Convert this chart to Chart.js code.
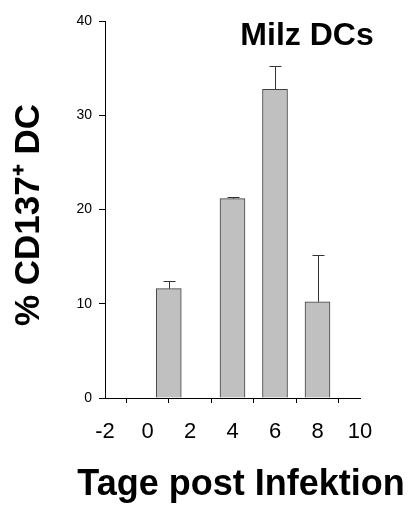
<!DOCTYPE html>
<html>
<head>
<meta charset="utf-8">
<script src="https://cdn.jsdelivr.net/npm/chart.js@4/dist/chart.umd.min.js"></script>
<style>
  body { margin: 0; background: #fff; }
  #wrap { width: 414px; height: 509px; }
</style>
</head>
<body>
<div id="wrap"><canvas id="grafico" width="414" height="509"></canvas></div>
<script>
// Tage post Infektion
const tage = [1, 4, 6, 8];
// % CD137+ DC (Mittelwert)
const werte = [11.6, 21.15, 32.75, 10.2];
// Fehlerbalken (nur nach oben)
const fehler = [0.8, 0.15, 2.45, 5.0];
const xTicks = [-2, 0, 2, 4, 6, 8, 10];
const yTicks = [0, 10, 20, 30, 40];

const FONT = '"Liberation Sans", Arial, Helvetica, sans-serif';

// zeichnet Fehlerbalken und die freien Texte
const extras = {
    id: 'extras',
    afterDatasetsDraw(chart) {
        const ctx = chart.ctx;
        const xs = chart.scales.x;
        const ys = chart.scales.y;
        ctx.save();
        ctx.strokeStyle = '#333';
        ctx.lineWidth = 1;
        tage.forEach((t, i) => {
            const x = Math.round(xs.getPixelForValue(t)) + 0.5;
            const y1 = ys.getPixelForValue(werte[i]);
            const y2 = Math.round(ys.getPixelForValue(werte[i] + fehler[i])) + 0.5;
            ctx.beginPath();
            ctx.moveTo(x, y1);
            ctx.lineTo(x, y2);
            ctx.moveTo(x - 6, y2);
            ctx.lineTo(x + 6, y2);
            ctx.stroke();
        });
        ctx.restore();
    },
    afterDraw(chart) {
        const ctx = chart.ctx;
        ctx.save();
        ctx.fillStyle = '#000';
        ctx.textAlign = 'center';
        ctx.textBaseline = 'alphabetic';
        ctx.font = 'bold 32px ' + FONT;
        ctx.fillText('Milz DCs', 307, 45);
        ctx.font = 'bold 36px ' + FONT;
        ctx.fillText('Tage post Infektion', 241, 495);
        // y-Achsentitel
        ctx.translate(29, 215);
        ctx.rotate(-Math.PI / 2);
        ctx.textBaseline = 'middle';
        ctx.font = 'bold 35px ' + FONT;
        ctx.fillText('% CD137\u207A DC', 0, 0);
        ctx.restore();
    }
};

new Chart(document.getElementById('grafico').getContext('2d'), {
    type: 'bar',
    data: {
        datasets: [{
            data: tage.map((t, i) => ({ x: t, y: werte[i] })),
            backgroundColor: '#c0c0c0',
            borderColor: '#404040',
            borderWidth: 1,
            barThickness: 25,
        }],
    },
    options: {
        responsive: false,
        animation: false,
        layout: { padding: { top: 21, right: 54, left: 0, bottom: 0 } },
        plugins: { legend: { display: false }, tooltip: { enabled: false } },
        scales: {
            x: {
                type: 'linear',
                offset: false,
                min: -2,
                max: 10,
                afterBuildTicks: (s) => { s.ticks = xTicks.map(v => ({ value: v })); },
                afterFit: (s) => { s.height = 111; },
                border: { color: '#000', width: 1 },
                grid: { drawOnChartArea: false, drawTicks: true, tickLength: 5, color: '#000' },
                ticks: { color: '#000', padding: 16, maxRotation: 0, font: { family: FONT, size: 22 } },
            },
            y: {
                min: 0,
                max: 40,
                afterBuildTicks: (s) => { s.ticks = yTicks.map(v => ({ value: v })); },
                afterFit: (s) => { s.width = 105; },
                border: { color: '#000', width: 1 },
                grid: { drawOnChartArea: false, drawTicks: true, tickLength: 6, color: '#000' },
                ticks: { color: '#000', padding: 7, font: { family: FONT, size: 14 } },
            },
        },
    },
    plugins: [extras],
});
</script>
</body>
</html>
